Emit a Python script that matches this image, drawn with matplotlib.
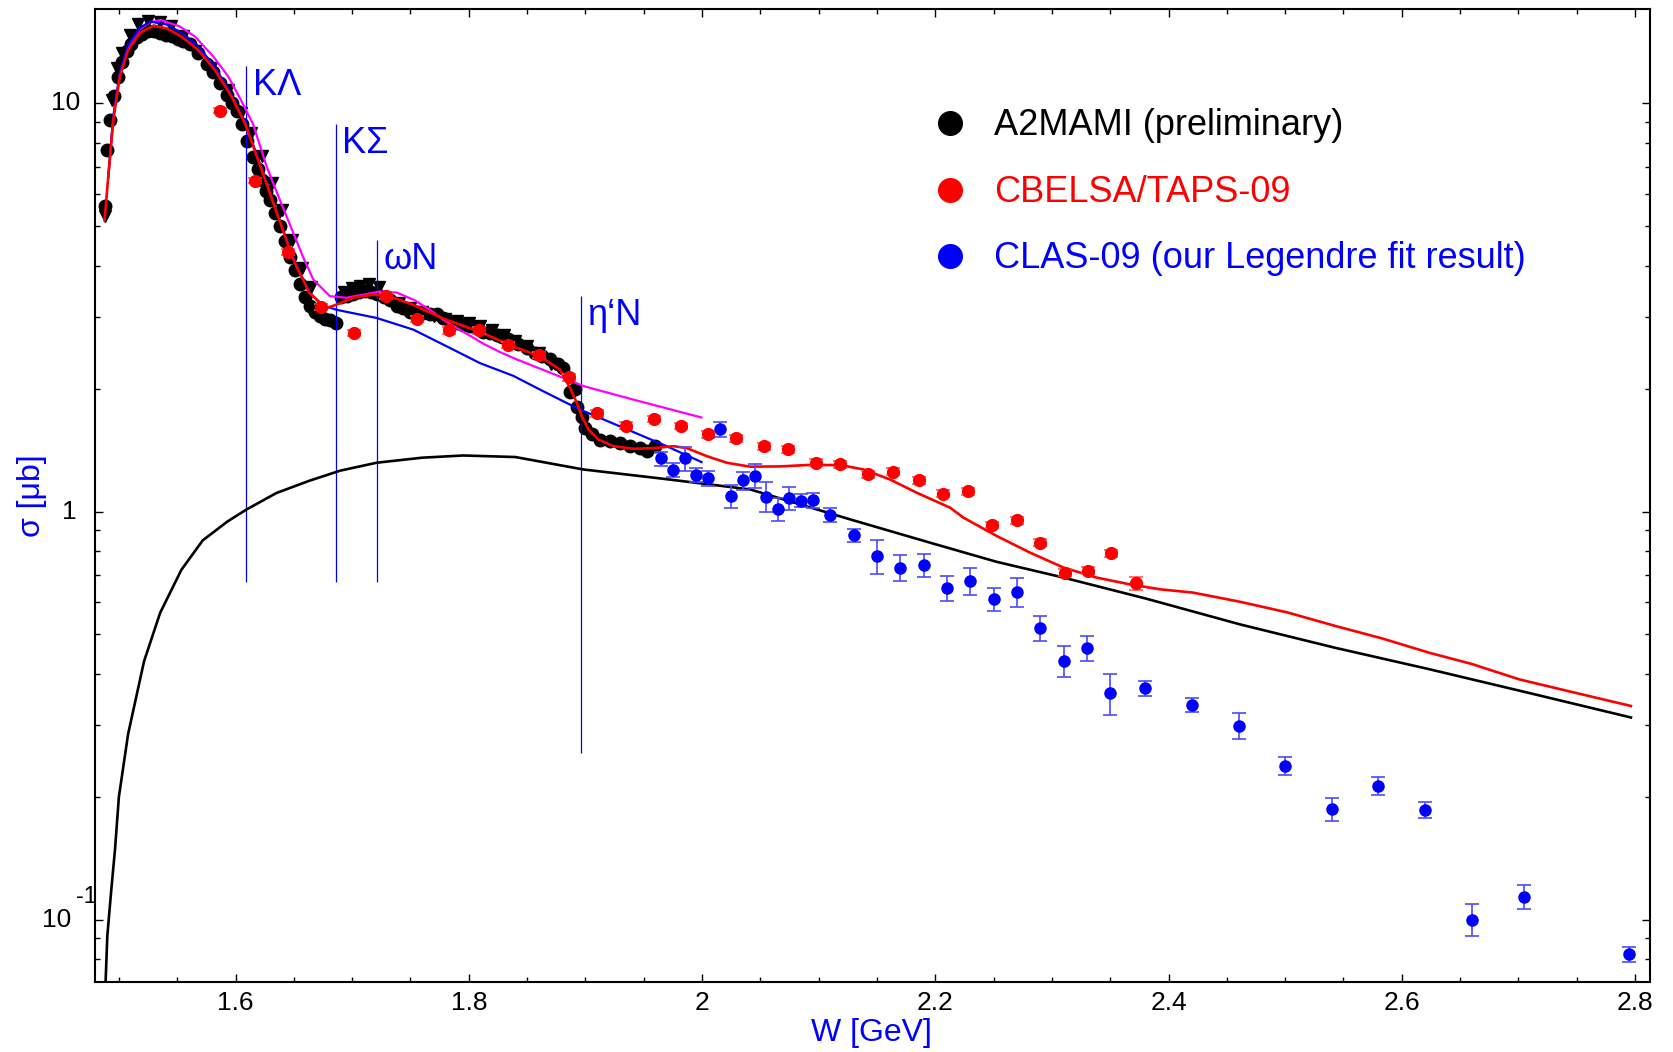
import matplotlib
matplotlib.use("Agg")
import matplotlib.pyplot as plt
import matplotlib.transforms as mtransforms
from matplotlib.ticker import MultipleLocator, FixedLocator, LogLocator, NullFormatter, FuncFormatter

plt.rcParams["font.family"] = ["Liberation Sans", "DejaVu Sans"]

# A2MAMI (preliminary), circles
a2_w = [1.4877, 1.4897, 1.4925, 1.4955, 1.4990, 1.5025, 1.5066, 1.5106, 1.5152, 1.5198,
        1.5249, 1.5300, 1.5350, 1.5401, 1.5452, 1.5503, 1.5553, 1.5610, 1.5675, 1.5753,
        1.5808, 1.5868, 1.5930, 1.5970, 1.6010, 1.6052, 1.6096, 1.6153, 1.6194, 1.6225,
        1.6265, 1.6295, 1.6336, 1.6382, 1.6427, 1.6468, 1.6508, 1.6553, 1.6595, 1.6639,
        1.6681, 1.6725, 1.6767, 1.6811, 1.6861, 1.6904, 1.6955, 1.7006, 1.7056, 1.7107,
        1.7158, 1.7209, 1.7270, 1.7325, 1.7382, 1.7438, 1.7497, 1.7555, 1.7610, 1.7666,
        1.7725, 1.7778, 1.7839, 1.7895, 1.7954, 1.8012, 1.8069, 1.8126, 1.8185, 1.8241,
        1.8286, 1.8340, 1.8418, 1.8498, 1.8571, 1.8632, 1.8698, 1.8764, 1.8811, 1.8869,
        1.8912, 1.8926, 1.8967, 1.8999, 1.9056, 1.9127, 1.9213, 1.9299, 1.9384, 1.9470,
        1.9527, 1.9597]
a2_sig = [5.6, 7.7, 9.1, 10.4, 11.6, 12.6, 13.4, 14.0, 14.5, 14.8,
          15.0, 15.0, 14.9, 14.7, 14.6, 14.4, 14.2, 14.0, 13.3, 12.5,
          11.9, 11.2, 10.5, 10.0, 9.6, 8.9, 8.1, 7.4, 6.9, 6.5,
          6.1, 5.8, 5.4, 5.0, 4.6, 4.2, 3.9, 3.6, 3.35, 3.18,
          3.08, 3.01, 2.97, 2.95, 2.90, 3.35, 3.38, 3.42, 3.45, 3.47,
          3.45, 3.42, 3.36, 3.30, 3.18, 3.16, 3.09, 3.08, 3.07, 3.05,
          3.04, 2.98, 2.93, 2.90, 2.87, 2.85, 2.82, 2.76, 2.74, 2.71,
          2.68, 2.65, 2.58, 2.52, 2.45, 2.40, 2.36, 2.30, 2.25, 1.96,
          2.00, 1.80, 1.70, 1.60, 1.55, 1.50, 1.49, 1.47, 1.45, 1.43,
          1.41, 1.45]

# A2MAMI, second set (triangles)
a2t_w = [1.4877, 1.4939, 1.4982, 1.5024, 1.5095, 1.5167, 1.5252, 1.5350, 1.5450, 1.5550,
         1.5650, 1.5790, 1.5933, 1.6048, 1.6134, 1.6223, 1.6309, 1.6395, 1.6481, 1.6570,
         1.6650, 1.6926, 1.6996, 1.7067, 1.7147, 1.7227, 1.7400, 1.7500, 1.7600, 1.7700,
         1.7800, 1.7900, 1.8000, 1.8100, 1.8200, 1.8300, 1.8400, 1.8500, 1.8600, 1.8707]
a2t_sig = [5.3, 10.2, 12.2, 13.3, 14.7, 15.6, 15.9, 15.8, 15.5, 14.6,
           13.4, 12.2, 10.8, 9.46, 8.46, 7.41, 6.38, 5.49, 4.63, 3.95,
           3.55, 3.45, 3.52, 3.57, 3.60, 3.55, 3.25, 3.15, 3.08, 3.02,
           2.97, 2.93, 2.89, 2.85, 2.78, 2.70, 2.62, 2.55, 2.45, 2.30]

# CBELSA/TAPS-09
cb_w = [1.587, 1.617, 1.645, 1.673, 1.702, 1.729, 1.756, 1.783, 1.809, 1.834,
        1.860, 1.886, 1.910, 1.935, 1.959, 1.982, 2.005, 2.029, 2.053, 2.074,
        2.098, 2.118, 2.142, 2.164, 2.186, 2.207, 2.228, 2.249, 2.270, 2.290,
        2.311, 2.331, 2.351, 2.372]
cb_sig = [9.60, 6.47, 4.32, 3.17, 2.74, 3.38, 2.96, 2.78, 2.78, 2.555,
          2.415, 2.133, 1.739, 1.624, 1.687, 1.622, 1.547, 1.511, 1.446, 1.420,
          1.317, 1.307, 1.233, 1.252, 1.194, 1.106, 1.120, 0.927, 0.953, 0.839,
          0.708, 0.717, 0.791, 0.667]
cb_err = [0.15, 0.10, 0.07, 0.05, 0.05, 0.06, 0.05, 0.05, 0.05, 0.045,
          0.04, 0.04, 0.03, 0.03, 0.03, 0.03, 0.03, 0.03, 0.028, 0.028,
          0.026, 0.026, 0.024, 0.025, 0.024, 0.022, 0.022, 0.018, 0.019, 0.017,
          0.014, 0.014, 0.016, 0.025]

# CLAS-09 (Legendre fit result)
clas_w = [1.965, 1.975, 1.985, 1.995, 2.005, 2.015, 2.025, 2.035, 2.045, 2.055,
          2.065, 2.075, 2.085, 2.095, 2.11, 2.13, 2.15, 2.17, 2.19, 2.21,
          2.23, 2.25, 2.27, 2.29, 2.31, 2.33, 2.35, 2.38, 2.42, 2.46,
          2.50, 2.54, 2.58, 2.62, 2.66, 2.705, 2.795]
clas_sig = [1.349, 1.266, 1.349, 1.228, 1.208, 1.589, 1.091, 1.192, 1.224, 1.087,
            1.014, 1.077, 1.063, 1.065, 0.982, 0.875, 0.778, 0.729, 0.740, 0.649,
            0.675, 0.611, 0.636, 0.518, 0.431, 0.463, 0.359, 0.369, 0.336, 0.299,
            0.238, 0.187, 0.213, 0.186, 0.100, 0.114, 0.0824]
clas_err = [0.053, 0.052, 0.092, 0.047, 0.052, 0.068, 0.072, 0.061, 0.081, 0.092,
            0.067, 0.071, 0.038, 0.046, 0.037, 0.033, 0.073, 0.053, 0.049, 0.045,
            0.052, 0.040, 0.052, 0.037, 0.037, 0.033, 0.042, 0.015, 0.014, 0.022,
            0.012, 0.012, 0.011, 0.0087, 0.009, 0.008, 0.0035]

# fit curve (red)
fit_w = [1.4877, 1.4909, 1.4952, 1.5008, 1.5079, 1.5179, 1.5292, 1.5408, 1.5537, 1.5680,
         1.5822, 1.5966, 1.6081, 1.6223, 1.6365, 1.6481, 1.6524, 1.6634, 1.6778, 1.6862,
         1.7007, 1.7177, 1.7320, 1.7521, 1.7806, 1.8093, 1.8378, 1.8610, 1.8780, 1.8868,
         1.8925, 1.8969, 1.9026, 1.9112, 1.9241, 1.9413, 1.9584, 1.9756, 1.9871, 2.0040,
         2.0212, 2.0412, 2.0670, 2.0898, 2.1185, 2.1384, 2.1613, 2.1841, 2.1956, 2.2127,
         2.2242, 2.2528, 2.2813, 2.3100, 2.3384, 2.3670, 2.3927, 2.4211, 2.4615, 2.5020,
         2.5425, 2.5830, 2.6235, 2.6603, 2.7008, 2.7413, 2.7965]
fit_sig = [5.17, 6.62, 9.11, 11.63, 13.51, 14.85, 15.48, 15.28, 14.57, 13.51,
           12.08, 10.39, 8.94, 6.88, 5.28, 4.25, 3.98, 3.43, 3.15, 3.21,
           3.34, 3.40, 3.37, 3.21, 2.95, 2.76, 2.54, 2.40, 2.23, 2.01,
           1.85, 1.713, 1.589, 1.501, 1.446, 1.425, 1.43, 1.446, 1.43, 1.367,
           1.317, 1.288, 1.29, 1.30, 1.30, 1.268, 1.198, 1.112, 1.075, 1.022,
           0.966, 0.871, 0.793, 0.729, 0.689, 0.663, 0.645, 0.633, 0.601, 0.566,
           0.525, 0.489, 0.451, 0.423, 0.388, 0.364, 0.334]

# black curve
bg_w = [1.4884, 1.4901, 1.4933, 1.4967, 1.5000, 1.5079, 1.5216, 1.5354, 1.5536, 1.5719,
        1.5930, 1.6090, 1.6350, 1.6634, 1.6900, 1.7210, 1.7600, 1.7953, 1.8400, 1.8982,
        1.9668, 2.0412, 2.1269, 2.1955, 2.2527, 2.3100, 2.3807, 2.4615, 2.5425, 2.6235,
        2.7081, 2.7965]
bg_sig = [0.068, 0.0914, 0.1168, 0.149, 0.20, 0.285, 0.43, 0.565, 0.72, 0.85,
          0.945, 1.01, 1.11, 1.19, 1.26, 1.317, 1.355, 1.372, 1.36, 1.268,
          1.203, 1.133, 0.957, 0.839, 0.753, 0.689, 0.612, 0.529, 0.464, 0.411,
          0.360, 0.313]

# blue curve
bl_w = [1.4909, 1.4952, 1.5008, 1.5079, 1.5179, 1.5267, 1.5408, 1.5537, 1.5680, 1.5822,
        1.5966, 1.6081, 1.6223, 1.6365, 1.6481, 1.6524, 1.6634, 1.6735, 1.6867, 1.7210,
        1.7525, 1.7810, 1.8096, 1.8382, 1.8610, 1.8782, 1.8953, 1.9325, 1.9696, 1.9996]
bl_sig = [6.6, 9.3, 11.9, 13.9, 15.3, 15.86, 15.6, 14.9, 13.8, 12.3,
          10.5, 9.0, 6.95, 5.3, 4.3, 4.0, 3.45, 3.21, 3.12, 2.98,
          2.79, 2.54, 2.31, 2.15, 1.99, 1.88, 1.778, 1.604, 1.446, 1.322]

# magenta curve
mg_w = [1.4909, 1.4952, 1.5008, 1.5079, 1.5179, 1.5267, 1.5360, 1.5524, 1.5653, 1.5810,
        1.5938, 1.6038, 1.6150, 1.6267, 1.6380, 1.6496, 1.6580, 1.6667, 1.6809, 1.6952,
        1.7100, 1.7238, 1.7381, 1.7530, 1.7667, 1.7781, 1.7960, 1.8122, 1.8265, 1.8409,
        1.8696, 1.8982, 1.9412, 1.9995]
mg_sig = [6.6, 9.2, 11.8, 13.8, 15.2, 15.8, 16.0, 15.42, 14.57, 13.02,
          11.63, 10.3, 8.9, 7.0, 5.8, 4.81, 4.2, 3.70, 3.37, 3.34,
          3.40, 3.46, 3.44, 3.30, 3.12, 2.95, 2.75, 2.58, 2.46, 2.36,
          2.19, 2.03, 1.88, 1.70]

# thresholds
thr_w = [1.609, 1.686, 1.721, 1.896]
thr_top = [12.34, 8.92, 4.63, 3.37]
thr_bot = [0.672, 0.672, 0.672, 0.2555]
thr_lab = ["K\u039b", "K\u03a3", "\u03c9N", "\u03b7\u2018N"]

legend_labels = ["A2MAMI (preliminary)", "CBELSA/TAPS-09", "CLAS-09 (our Legendre fit result)"]
legend_colors = ["black", "#ff0000", "#0000ff"]

fig = plt.figure(figsize=(16.73, 10.52), dpi=100)
ax = fig.add_axes([0.0567, 0.0663, 0.9296, 0.9249])
ax.set_yscale("log")

ax.plot(a2t_w, a2t_sig, "v", color="black", ms=8.5, zorder=2)
ax.plot(a2_w, a2_sig, "o", color="black", ms=9, zorder=2)

ax.vlines(thr_w, thr_bot, thr_top, color="#0000ff", lw=0.9, zorder=3)
for w, top, lab in zip(thr_w, thr_top, thr_lab):
    ax.annotate(lab, xy=(w, top), xytext=(6.5, -29), textcoords="offset pixels",
                ha="left", va="baseline", fontsize=26, color="#0000ff")

ax.plot(bg_w, bg_sig, color="black", lw=1.9, zorder=4)
ax.plot(mg_w, mg_sig, color="#ff00ff", lw=1.6, zorder=4)
ax.plot(bl_w, bl_sig, color="#0000ff", lw=1.6, zorder=4)
ax.plot(fit_w, fit_sig, color="#ff0000", lw=1.9, zorder=5)

# error bars behind the dots
ax.errorbar(cb_w, cb_sig, yerr=cb_err, fmt="none", ecolor="#ff5a5a",
            elinewidth=1.2, capsize=5, capthick=1.2, zorder=5.5)
ax.plot(cb_w, cb_sig, "o", color="#ff0000", ms=8.5, zorder=6)
ax.errorbar(clas_w, clas_sig, yerr=clas_err, fmt="none", ecolor="#4a4aff",
            elinewidth=1.2, capsize=5, capthick=1.2, zorder=5.5)
ax.plot(clas_w, clas_sig, "o", color="#0000ff", ms=8, zorder=6)

ax.set_xlim(1.4794, 2.8129)
ax.set_ylim(0.0703, 17.0)

ax.xaxis.set_major_locator(MultipleLocator(0.2))
ax.xaxis.set_minor_locator(MultipleLocator(0.05))
ax.xaxis.set_major_formatter(FuncFormatter(lambda v, p: f"{v:g}"))
ax.yaxis.set_major_locator(FixedLocator([0.1, 1, 10]))
ax.yaxis.set_minor_locator(LogLocator(base=10, subs=range(2, 10)))
ax.yaxis.set_major_formatter(NullFormatter())
ax.yaxis.set_minor_formatter(NullFormatter())
ax.tick_params(which="both", direction="in", top=True, right=True, width=1.0, labelsize=19)
ax.tick_params(which="major", length=6)
ax.tick_params(which="minor", length=3.5)
ax.tick_params(axis="x", pad=6)
for s in ax.spines.values():
    s.set_linewidth(1.5)

# y tick labels in the original style
tr = mtransforms.blended_transform_factory(ax.transAxes, ax.transData)
ax.text(-0.0097, 10, "10", transform=tr, ha="right", va="center", fontsize=19)
ax.text(-0.0116, 1, "1", transform=tr, ha="right", va="center", fontsize=19)
ax.text(-0.0154, 0.1, "10", transform=tr, ha="right", va="center", fontsize=19)
up = mtransforms.ScaledTranslation(0, 23 / 100, fig.dpi_scale_trans)
ax.text(0.0013, 0.1, "-1", transform=tr + up, ha="right", va="center", fontsize=17)

fig.text(0.521, 1 - 1033 / 1052, "W [GeV]", ha="center", va="center", fontsize=23, color="#0000ff")
fig.text(32 / 1673, 1 - 496 / 1052, "\u03c3 [\u03bcb]", ha="center", va="center",
         rotation=90, fontsize=23, color="#0000ff")

# legend
leg_y = [0.8834, 0.8143, 0.7465]
for yy, lab, col in zip(leg_y, legend_labels, legend_colors):
    ax.plot([0.550], [yy], "o", ms=17, color=col, transform=ax.transAxes, clip_on=False)
    ax.text(0.578, yy - 0.003, lab, color=col, fontsize=26, va="center", ha="left",
            transform=ax.transAxes)

fig.savefig("out.png", dpi=100)
